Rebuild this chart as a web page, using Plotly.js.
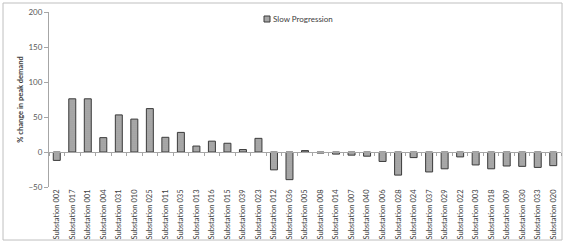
<!DOCTYPE html>
<html>
<head>
<meta charset="utf-8">
<script src="https://cdn.plot.ly/plotly-3.0.1.min.js"></script>
<style>html,body{margin:0;padding:0;background:#fff;}#chart{width:563px;height:247px;}</style>
</head>
<body>
<div id="chart"></div>
<script>
const categories = ["Substation 002","Substation 017","Substation 001","Substation 004","Substation 031","Substation 010","Substation 025","Substation 011","Substation 035","Substation 013","Substation 016","Substation 015","Substation 039","Substation 023","Substation 012","Substation 036","Substation 005","Substation 008","Substation 014","Substation 007","Substation 040","Substation 006","Substation 028","Substation 024","Substation 037","Substation 029","Substation 022","Substation 003","Substation 018","Substation 009","Substation 030","Substation 033","Substation 020"];
const slowProgression = [-12, 76, 76, 20.5, 53, 47, 62, 21, 28, 8.5, 15.5, 12.5, 3.5, 19.5, -25.5, -39.5, 2, -1.5, -3, -4.5, -6, -13.5, -33, -8, -28.5, -24, -7, -18.5, -24, -20, -20.5, -22, -19.5];
const seriesName = "Slow Progression";
const yTicks = [-50, 0, 50, 100, 150, 200];

const fontFam = "Lato, 'Open Sans', sans-serif";
const barFill = '#a6a6a6';
const barLine = '#3a3a3a';
const traces = [
  {
    type: 'bar', x: categories, y: slowProgression, name: seriesName,
    width: 0.45,
    marker: {color: barFill, line: {color: barLine, width: 1},
      pattern: {shape: '.', fgcolor: '#939393', bgcolor: '#acacac', size: 2, solidity: 0.3}},
    showlegend: false
  },
  {
    type: 'scatter', x: categories, y: categories.map(() => null), xaxis: 'x2', yaxis: 'y',
    showlegend: false, hoverinfo: 'skip', mode: 'lines'
  }
];
const n = categories.length;
const plotW = 512, plotH = 175;
const layout = {
  width: 563, height: 247,
  margin: {l: 49, r: 2, t: 12, b: 60},
  paper_bgcolor: '#fff', plot_bgcolor: '#fff',
  font: {family: fontFam, color: '#595959', size: 8},
  showlegend: false,
  xaxis: {
    type: 'category', range: [-0.5, n - 0.5], tickangle: -90, tickfont: {size: 7.5, color: '#404040'},
    showline: false, ticks: '', showgrid: false, zeroline: false, fixedrange: true
  },
  xaxis2: {
    type: 'category', matches: 'x', overlaying: 'x', anchor: 'free', position: 0.2,
    range: [-0.5, n - 0.5],
    showticklabels: false, showline: true, linecolor: '#a6a6a6', linewidth: 1,
    ticks: 'outside', ticklen: 3, tickcolor: '#a6a6a6', tickson: 'boundaries', showgrid: false
  },
  yaxis: {
    range: [-50, 200], tickvals: yTicks, showgrid: false, zeroline: false,
    showline: true, linecolor: '#a6a6a6', ticks: 'outside', ticklen: 4, tickcolor: '#a6a6a6',
    tickfont: {size: 8, color: '#595959'},
    title: {text: '% change in peak demand', font: {size: 7.5, color: '#404040', weight: 'bold'}, standoff: 3}
  },
  annotations: [{
    xref: 'paper', yref: 'paper', x: (271 - 49) / plotW, y: (187 - 19) / plotH,
    xanchor: 'left', yanchor: 'middle', showarrow: false, text: seriesName,
    font: {size: 8, color: '#404040'}
  }],
  shapes: [
    {
      type: 'rect', xref: 'paper', yref: 'paper',
      x0: -0.0898, x1: 1.002, y0: -0.303, y1: 1.0514,
      line: {color: '#bfbfbf', width: 1}, fillcolor: 'rgba(0,0,0,0)', layer: 'below'
    },
    {
      type: 'rect', xref: 'paper', yref: 'paper',
      x0: (264 - 49) / plotW, x1: (270 - 49) / plotW, y0: (187 - 22) / plotH, y1: (187 - 16) / plotH,
      line: {color: barLine, width: 1}, fillcolor: barFill
    }
  ]
};
Plotly.newPlot('chart', traces, layout, {staticPlot: true, displayModeBar: false});
</script>
</body>
</html>
